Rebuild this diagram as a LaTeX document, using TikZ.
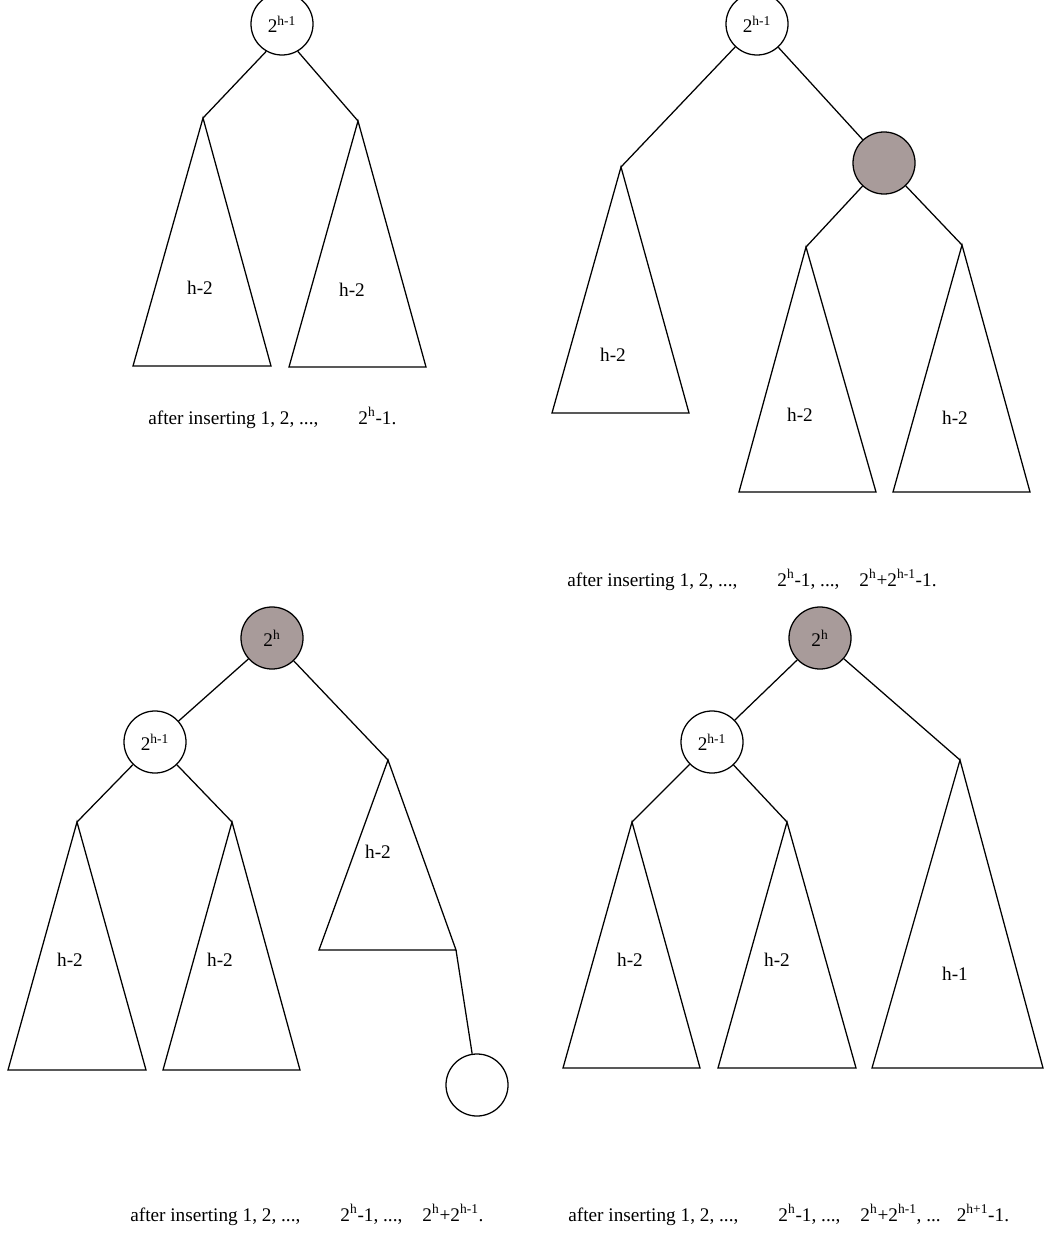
\documentclass[tikz,border=0pt]{standalone}
\usepackage{fontspec}
\setmainfont{Liberation Serif}
\usetikzlibrary{positioning}
\definecolor{keygray}{RGB}{168,155,154}

\begin{document}
\begin{tikzpicture}[x=0.025cm,y=-0.025cm,
        every node/.style={font=\fontsize{13.7}{16}\selectfont},
        key/.style={circle,draw,line width=0.9pt,minimum size=1.55cm,inner sep=0pt,fill=white},
        hkey/.style={key,fill=keygray},
        tedge/.style={line width=0.9pt},
        subtree/.style={line width=0.9pt,line join=miter},
        capt/.style={anchor=west,inner sep=0pt},
      ]
      \useasboundingbox (0,0) rectangle (1045,1254);

      % after inserting 1 .. 2^h-1
      \node[key] (ar) at (282,24) {2\textsuperscript{h-1}};
      \coordinate (al) at (203,118);
      \coordinate (ac) at (358,121);
      \draw[tedge] (ar.240) -- (al);
      \draw[tedge] (ar.300) -- (ac);
      \draw[subtree] (al) -- ++(-70,248) -- ++(138,0) -- cycle;
      \draw[subtree] (ac) -- ++(-69,246) -- ++(137,0) -- cycle;
      \node (alt) at (200,288) {h-2};
      \node (act) at (352,290) {h-2};
      \node[capt] (acap) at (148,418) {after inserting 1, 2, ...,\hspace{1cm}2\textsuperscript{h}-1.};

      % after inserting 1 .. 2^h+2^(h-1)-1
      \node[key] (br) at (757,24) {2\textsuperscript{h-1}};
      \node[hkey] (bg) at (884,163) {};
      \coordinate (bl) at (621,167);
      \coordinate (bgl) at (806,247);
      \coordinate (bgr) at (962,245);
      \draw[tedge] (br) -- (bl);
      \draw[tedge] (br) -- (bg);
      \draw[tedge] (bg) -- (bgl);
      \draw[tedge] (bg) -- (bgr);
      \draw[subtree] (bl) -- ++(-69,246) -- ++(137,0) -- cycle;
      \draw[subtree] (bgl) -- ++(-67,245) -- ++(137,0) -- cycle;
      \draw[subtree] (bgr) -- ++(-69,247) -- ++(137,0) -- cycle;
      \node (blt) at (613,355) {h-2};
      \node (bglt) at (800,415) {h-2};
      \node (bgrt) at (955,418) {h-2};
      \node[capt] (bcap) at (567,580) {after inserting 1, 2, ...,\hspace{1cm}2\textsuperscript{h}-1, ...,\hspace{0.5cm}2\textsuperscript{h}+2\textsuperscript{h-1}-1.};

      % after inserting 1 .. 2^h+2^(h-1)
      \node[hkey] (cr) at (272,638) {2\textsuperscript{h}};
      \node[key] (ck) at (155,742) {2\textsuperscript{h-1}};
      \node[key] (cn) at (477,1085) {};
      \coordinate (cl) at (77,822);
      \coordinate (cm) at (232,822);
      \coordinate (cc) at (388,760);
      \coordinate (ce) at (456,950);
      \draw[tedge] (cr) -- (ck);
      \draw[tedge] (cr) -- (cc);
      \draw[tedge] (ck) -- (cl);
      \draw[tedge] (ck) -- (cm);
      \draw[subtree] (cl) -- ++(-69,248) -- ++(138,0) -- cycle;
      \draw[subtree] (cm) -- ++(-69,248) -- ++(137,0) -- cycle;
      \draw[subtree] (cc) -- (ce) -- ++(-137,0) -- cycle;
      \draw[tedge] (ce) -- (cn);
      \node (clt) at (70,960) {h-2};
      \node (cmt) at (220,960) {h-2};
      \node (cct) at (378,852) {h-2};
      \node[capt] (ccap) at (130,1215) {after inserting 1, 2, ...,\hspace{1cm}2\textsuperscript{h}-1, ...,\hspace{0.5cm}2\textsuperscript{h}+2\textsuperscript{h-1}.};

      % after inserting 1 .. 2^(h+1)-1
      \node[hkey] (dr) at (820,638) {2\textsuperscript{h}};
      \node[key] (dk) at (712,742) {2\textsuperscript{h-1}};
      \coordinate (dl) at (632,822);
      \coordinate (dm) at (787,822);
      \coordinate (dc) at (960,760);
      \draw[tedge] (dr) -- (dk);
      \draw[tedge] (dr) -- (dc);
      \draw[tedge] (dk) -- (dl);
      \draw[tedge] (dk) -- (dm);
      \draw[subtree] (dl) -- ++(-69,246) -- ++(137,0) -- cycle;
      \draw[subtree] (dm) -- ++(-69,246) -- ++(138,0) -- cycle;
      \draw[subtree] (dc) -- ++(-88,308) -- ++(171,0) -- cycle;
      \node (dlt) at (630,960) {h-2};
      \node (dmt) at (777,960) {h-2};
      \node (dct) at (955,974) {h-1};
      \node[capt] (dcap) at (568,1215) {after inserting 1, 2, ...,\hspace{1cm}2\textsuperscript{h}-1, ...,\hspace{0.5cm}2\textsuperscript{h}+2\textsuperscript{h-1}, ...\hspace{0.4cm}2\textsuperscript{h+1}-1.};
    \end{tikzpicture}
\end{document}
